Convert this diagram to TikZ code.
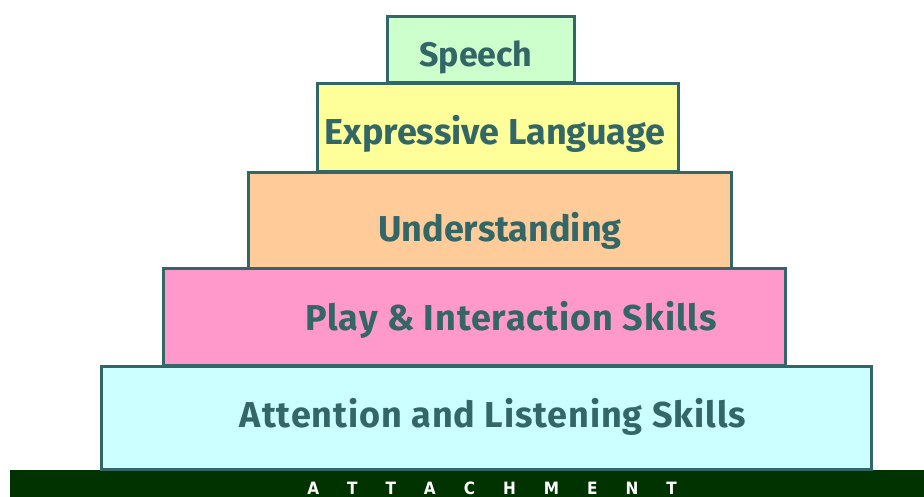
\documentclass[tikz,border=0pt]{standalone}
\usepackage{fontspec}
\setmainfont{Fira Sans}
\newfontfamily\basefont{DejaVu Sans Condensed}
\definecolor{edge}{HTML}{336666}
\definecolor{speechfill}{HTML}{CCFFCC}
\definecolor{exprfill}{HTML}{FFFF99}
\definecolor{underfill}{HTML}{FFCC99}
\definecolor{playfill}{HTML}{FF99CC}
\definecolor{attnfill}{HTML}{CCFFFF}
\definecolor{basefill}{HTML}{003300}
\begin{document}
\begin{tikzpicture}[x=1pt,y=-1pt,
  tier/.style={draw=edge,line width=3pt},
  tierlabel/.style={text=edge,font=\bfseries\fontsize{36}{40}\selectfont,anchor=base,inner sep=0pt},
  spaced/.style={font=\bfseries\fontsize{36}{40}\selectfont\addfontfeature{LetterSpace=2.5}}]
\useasboundingbox (0,0) rectangle (924,497);
% base strip
\fill[basefill] (10,470) rectangle (924,497);
% tiers, bottom to top
\draw[tier,fill=attnfill] (101,366) rectangle (871,469);
\draw[tier,fill=playfill] (163,269) rectangle (785,365);
\draw[tier,fill=underfill] (248,173) rectangle (731,269);
\draw[tier,fill=exprfill] (317,84) rectangle (678,172);
\draw[tier,fill=speechfill] (387,17) rectangle (574,83);
% labels, placed on their baselines
\node[tierlabel,font=\bfseries\fontsize{34}{38}\selectfont] (speech) at (476,67) {Speech};
\node[tierlabel] (expr) at (495,145) {Expressive Language};
\node[tierlabel] (under) at (500,242) {Understanding};
\node[tierlabel,spaced] (play) at (511,330) {Play \& Interaction Skills};
\node[tierlabel,spaced] (attn) at (493,427) {Attention and Listening Skills};
\node[text=white,font=\basefont\bfseries\fontsize{17}{19}\selectfont,inner sep=0pt] (base) at (492,488)
  {A\hspace{28pt}T\hspace{28pt}T\hspace{28pt}A\hspace{28pt}C\hspace{28pt}H\hspace{28pt}M\hspace{28pt}E\hspace{28pt}N\hspace{28pt}T};
\end{tikzpicture}
\end{document}
